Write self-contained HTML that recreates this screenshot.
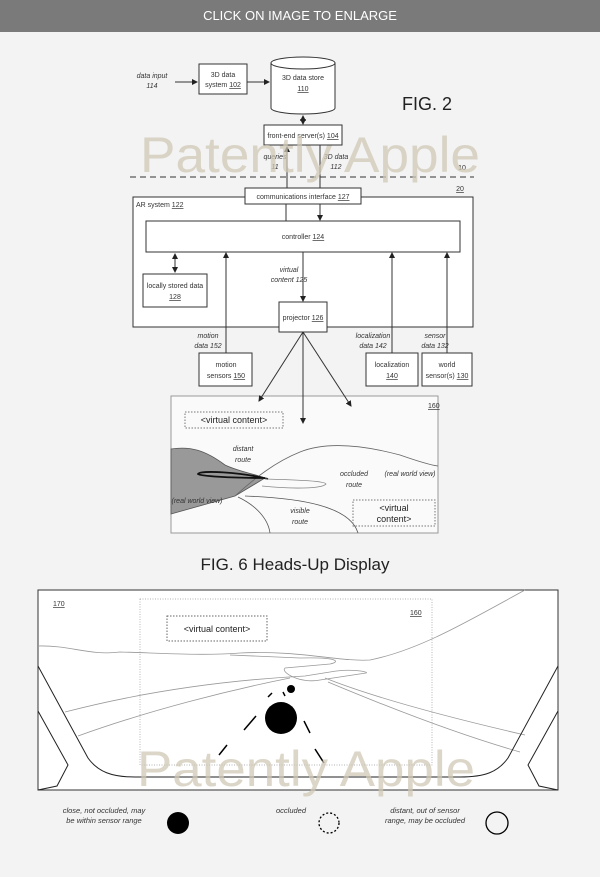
<!DOCTYPE html>
<html><head><meta charset="utf-8"><style>
html,body{margin:0;padding:0;background:#f3f3f3;}
svg{display:block;font-family:"Liberation Sans",sans-serif;}
</style></head><body>
<svg width="600" height="877" viewBox="0 0 600 877" xmlns="http://www.w3.org/2000/svg">
<defs>
<marker id="a" markerWidth="6" markerHeight="6" refX="5" refY="3" orient="auto"><path d="M0,0 L6,3 L0,6 z" fill="#222"/></marker>
<marker id="as" markerWidth="6" markerHeight="6" refX="1" refY="3" orient="auto"><path d="M6,0 L0,3 L6,6 z" fill="#222"/></marker>
</defs>
<rect x="0" y="0" width="600" height="877" fill="#f3f3f3"/>
<rect x="0" y="0" width="600" height="32" fill="#7a7a7a"/>
<text x="300" y="20" fill="#fff" font-size="13" text-anchor="middle">CLICK ON IMAGE TO ENLARGE</text>

<g stroke="#333" stroke-width="1" fill="#fff">
<rect x="199" y="64" width="48" height="30"/>
<path d="M271,63 L271,108 A32,6 0 0 0 335,108 L335,63"/>
<ellipse cx="303" cy="63" rx="32" ry="6"/>
<rect x="264" y="125" width="78" height="20"/>
<rect x="133" y="197" width="340" height="130"/>
<rect x="245" y="188" width="116" height="16"/>
<rect x="146" y="221" width="314" height="31"/>
<rect x="143" y="274" width="64" height="33"/>
<rect x="279" y="302" width="48" height="30"/>
<rect x="199" y="353" width="53" height="33"/>
<rect x="366" y="353" width="52" height="33"/>
<rect x="422" y="353" width="50" height="33"/>
</g>
<g stroke="#333" stroke-width="1" fill="none">
<line x1="175" y1="82" x2="197" y2="82" marker-end="url(#a)"/>
<line x1="247" y1="82" x2="269" y2="82" marker-end="url(#a)"/>
<line x1="303" y1="116" x2="303" y2="124" marker-end="url(#a)" marker-start="url(#as)"/>
<line x1="287" y1="188" x2="287" y2="147" marker-end="url(#a)"/>
<line x1="320" y1="145" x2="320" y2="188"/>
<line x1="130" y1="177" x2="474" y2="177" stroke-dasharray="6,4"/>
<line x1="286" y1="204" x2="286" y2="221"/>
<line x1="320" y1="204" x2="320" y2="220" marker-end="url(#a)"/>
<line x1="175" y1="254" x2="175" y2="272" marker-end="url(#a)" marker-start="url(#as)"/>
<line x1="303" y1="252" x2="303" y2="301" marker-end="url(#a)"/>
<line x1="226" y1="353" x2="226" y2="253" marker-end="url(#a)"/>
<line x1="392" y1="353" x2="392" y2="253" marker-end="url(#a)"/>
<line x1="447" y1="353" x2="447" y2="253" marker-end="url(#a)"/>
</g>
<g font-size="7" fill="#333" text-anchor="middle">
<text x="152" y="78" font-style="italic">data input</text><text x="152" y="88" font-style="italic">114</text>
<text x="223" y="77">3D data</text><text x="223" y="87">system <tspan text-decoration="underline">102</tspan></text>
<text x="303" y="80">3D data store</text><text x="303" y="91" text-decoration="underline">110</text>
<text x="303" y="138">front-end server(s) <tspan text-decoration="underline">104</tspan></text>
<text x="275" y="159" font-style="italic">queries</text><text x="275" y="169" font-style="italic">11</text>
<text x="336" y="159" font-style="italic">3D data</text><text x="336" y="169" font-style="italic">112</text>
<text x="462" y="170">10</text><text x="460" y="191" text-decoration="underline">20</text>
<text x="303" y="199">communications interface <tspan text-decoration="underline">127</tspan></text>
<text x="136" y="207" text-anchor="start">AR system <tspan text-decoration="underline">122</tspan></text>
<text x="303" y="239">controller <tspan text-decoration="underline">124</tspan></text>
<text x="175" y="288">locally stored data</text><text x="175" y="299" text-decoration="underline">128</text>
<text x="289" y="272" font-style="italic">virtual</text><text x="289" y="282" font-style="italic">content 125</text>
<text x="303" y="320">projector <tspan text-decoration="underline">126</tspan></text>
<text x="208" y="338" font-style="italic">motion</text><text x="208" y="348" font-style="italic">data 152</text>
<text x="226" y="367">motion</text><text x="226" y="378">sensors <tspan text-decoration="underline">150</tspan></text>
<text x="373" y="338" font-style="italic">localization</text><text x="373" y="348" font-style="italic">data 142</text>
<text x="392" y="367">localization</text><text x="392" y="378" text-decoration="underline">140</text>
<text x="435" y="338" font-style="italic">sensor</text><text x="435" y="348" font-style="italic">data 132</text>
<text x="447" y="367">world</text><text x="447" y="378">sensor(s) <tspan text-decoration="underline">130</tspan></text>
</g>
<text x="402" y="110" font-size="18" fill="#222">FIG. 2</text>

<!-- fig 160 -->
<rect x="171" y="396" width="267" height="137" fill="#fafafa" stroke="#999" stroke-width="1"/>
<g stroke="#333" stroke-width="1" fill="none">
<line x1="303" y1="332" x2="259" y2="401" marker-end="url(#a)"/>
<line x1="303" y1="332" x2="303" y2="423" marker-end="url(#a)"/>
<line x1="303" y1="332" x2="351" y2="406" marker-end="url(#a)"/>
</g>
<text x="428" y="408" font-size="7" fill="#333" text-decoration="underline">160</text>
<rect x="185" y="412" width="98" height="16" fill="none" stroke="#777" stroke-dasharray="1.5,1.5"/>
<text x="234" y="423" font-size="9" fill="#222" text-anchor="middle">&lt;virtual content&gt;</text>
<path d="M171,449 C190,446 205,450 225,465 C240,472 255,474 265,478 L235,496 L171,514 Z" fill="#999" stroke="#555" stroke-width="0.8"/>
<path d="M235,496 C255,478 275,462 300,452 C330,440 370,447 400,455 C420,462 430,465 438,466" fill="none" stroke="#666" stroke-width="0.8"/>
<path d="M265,478 C230,478 200,476 198,474 C200,470 240,472 268,479" fill="none" stroke="#111" stroke-width="1.8"/>
<path d="M265,479 C300,480 325,481 326,484 C322,489 290,489 262,486" fill="none" stroke="#888" stroke-width="0.8"/>
<path d="M238,497 C255,505 268,518 270,533" fill="none" stroke="#555" stroke-width="0.8"/>
<path d="M245,496 C300,498 350,506 358,533" fill="none" stroke="#555" stroke-width="0.8"/>
<rect x="353" y="500" width="82" height="26" fill="none" stroke="#777" stroke-dasharray="1.5,1.5"/>
<g font-size="7" fill="#333" font-style="italic" text-anchor="middle">
<text x="243" y="451">distant</text><text x="243" y="462">route</text>
<text x="354" y="476">occluded</text><text x="354" y="487">route</text>
<text x="410" y="476">(real world view)</text>
<text x="197" y="503">(real world view)</text>
<text x="300" y="513">visible</text><text x="300" y="524">route</text>
</g>
<text x="394" y="511" font-size="9" fill="#222" text-anchor="middle">&lt;virtual</text>
<text x="394" y="522" font-size="9" fill="#222" text-anchor="middle">content&gt;</text>

<text x="295" y="570" font-size="17" fill="#222" text-anchor="middle">FIG. 6 Heads-Up Display</text>

<!-- fig 6 -->
<rect x="38" y="590" width="520" height="200" fill="#fff" stroke="#333" stroke-width="1"/>
<text x="53" y="606" font-size="7" fill="#333" text-decoration="underline">170</text>
<rect x="140" y="599" width="292" height="166" fill="none" stroke="#999" stroke-dasharray="1,1.5" stroke-width="0.7"/>
<text x="410" y="615" font-size="7" fill="#333" text-decoration="underline">160</text>
<rect x="167" y="616" width="100" height="25" fill="none" stroke="#666" stroke-dasharray="1.5,1.5"/>
<text x="217" y="632" font-size="9" fill="#222" text-anchor="middle">&lt;virtual content&gt;</text>
<g fill="none" stroke="#999" stroke-width="0.8">
<path d="M38,646 C70,645 90,656 120,652 C160,653 200,656 240,653 C300,650 340,662 370,660 C420,650 470,620 525,590"/>
<path d="M65,712 C150,690 230,680 305,676 L330,672 C350,668 370,672 366,673 L320,680 C300,684 280,672 285,668 L330,664 C340,662 340,657 300,658 L230,655"/>
<path d="M78,736 C150,710 230,690 290,678"/>
<path d="M325,678 C380,700 460,720 525,735"/>
<path d="M328,682 C390,708 460,735 520,752"/>
</g>
<path d="M38,666 L88,758 C98,772 112,777 135,777 L460,777 C485,777 498,772 508,758 L558,666" fill="none" stroke="#222" stroke-width="1"/>
<path d="M38,711 L68,765 L57,786 L38,790" fill="none" stroke="#222" stroke-width="1"/>
<path d="M558,711 L528,765 L539,786 L558,790" fill="none" stroke="#222" stroke-width="1"/>
<circle cx="281" cy="718" r="16" fill="#000"/>
<circle cx="291" cy="689" r="4" fill="#000"/>
<g stroke="#000" stroke-width="1.5">
<line x1="244" y1="730" x2="256" y2="716"/><line x1="304" y1="721" x2="310" y2="733"/>
<line x1="219" y1="755" x2="227" y2="745"/><line x1="315" y1="749" x2="324" y2="763"/>
<line x1="268" y1="697" x2="272" y2="693"/><line x1="283" y1="692" x2="285" y2="696"/>
</g>

<g font-size="50" fill="#cfc8b6" fill-opacity="0.75" font-family="Liberation Sans, sans-serif">
<text x="140" y="172" textLength="340" lengthAdjust="spacingAndGlyphs">Patently Apple</text>
<text x="137" y="786" textLength="338" lengthAdjust="spacingAndGlyphs">Patently Apple</text>
</g>

<g font-size="7.5" fill="#333" font-style="italic" text-anchor="middle">
<text x="104" y="813">close, not occluded, may</text><text x="104" y="823">be within sensor range</text>
<text x="291" y="813">occluded</text>
<text x="425" y="813">distant, out of sensor</text><text x="425" y="823">range, may be occluded</text>
</g>
<circle cx="178" cy="823" r="11" fill="#000"/>
<circle cx="329" cy="823" r="10" fill="none" stroke="#000" stroke-width="1.3" stroke-dasharray="2,2"/>
<circle cx="497" cy="823" r="11" fill="none" stroke="#000" stroke-width="1.3"/>
</svg>
</body></html>
